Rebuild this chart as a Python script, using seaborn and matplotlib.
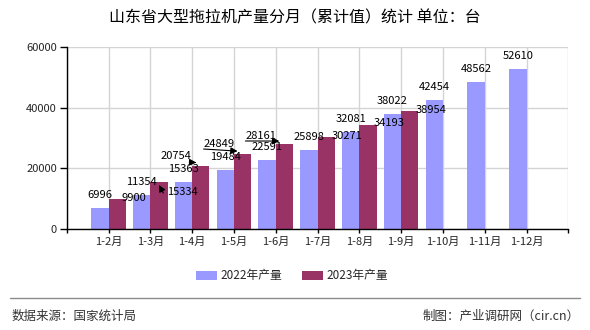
import numpy as np
import pandas as pd
import matplotlib
matplotlib.use('Agg')
import matplotlib.pyplot as plt
import seaborn as sns
from matplotlib.transforms import offset_copy
from matplotlib.lines import Line2D
from matplotlib.patches import Patch

# ---------------- data ----------------
months = ['1-2月', '1-3月', '1-4月', '1-5月', '1-6月', '1-7月', '1-8月',
          '1-9月', '1-10月', '1-11月', '1-12月']
prod_2022 = [6996, 11354, 15363, 19484, 22591, 25898, 32081, 38022, 42454, 48562, 52610]
prod_2023 = [9900, 15334, 20754, 24849, 28161, 30271, 34193, 38954, None, None, None]
series = ['2022年产量', '2023年产量']
yticks = [0, 20000, 40000, 60000]
title = '山东省大型拖拉机产量分月（累计值）统计 单位：台'
source = '数据来源：国家统计局'
maker = '制图：产业调研网（cir.cn）'

# ---------------- style ----------------
colors = ['#9999ff', '#993366']
# label offsets for 2023 bars (pixels: dx, up) and leader-line tips
lab23_off = [(17, 1), (23, -9.5), (-24.8, 10), (-23.4, 9.6), (-23.5, 7.6),
             (21, 1.2), (21, 2.3), (21, 1)]
lab23_lead = [None,
              dict(tip=(0, -2.5), relpos=(1, 0), conn='angle,angleA=0,angleB=118,rad=0'),
              dict(tip=(-4.5, 3.5), relpos=(0, 0), conn='arc3'),
              dict(tip=(-5, 2.5), relpos=(0, 0), conn='arc3'),
              dict(tip=(-5, 2.5), relpos=(0, 0), conn='arc3'),
              None, None, None]

sns.set_style('white')
plt.rcParams['font.family'] = ['Noto Sans CJK SC', 'DejaVu Sans']

fig = plt.figure(figsize=(5.9, 3.3), dpi=100)
ax = fig.add_axes([66.7 / 590, 1 - 229 / 330, (568.3 - 66.7) / 590, (229 - 47) / 330])

df = pd.DataFrame({
    '月份': months * 2,
    '系列': [series[0]] * len(months) + [series[1]] * len(months),
    '产量': prod_2022 + prod_2023,
}).dropna()

sns.barplot(data=df, x='月份', y='产量', hue='系列', order=months, hue_order=series,
            palette=colors, width=0.83, errorbar=None, saturation=1, legend=False,
            ax=ax, zorder=2, linewidth=0, edgecolor='none')

ax.set_xlim(-1, 11)
ax.set_ylim(0, 60000)
ax.set_yticks(yticks)
ax.set_yticklabels([str(v) for v in yticks])
ax.set_xticks(range(-1, 12))
ax.set_xticklabels([''] + months + [''])
ax.set_xlabel('')
ax.set_ylabel('')
ax.grid(True, color='#d4d4d4', lw=1)
ax.set_axisbelow(True)
for s in ['top', 'right']:
    ax.spines[s].set_visible(False)
for s in ['left', 'bottom']:
    ax.spines[s].set_color('black')
    ax.spines[s].set_linewidth(1)
ax.tick_params(axis='y', length=5, width=1, color='black', labelsize=8, pad=2, left=True)
ax.tick_params(axis='x', length=3, width=1, color='black', labelsize=8, pad=3, bottom=True)

# ---------------- labels ----------------
bars22 = list(ax.containers[0])
bars23 = list(ax.containers[1])
for b, v in zip(bars22, [v for v in prod_2022 if v is not None]):
    cx = b.get_x() + b.get_width() / 2
    ax.annotate(str(v), xy=(cx, b.get_height()), xytext=(0, 13), textcoords='offset pixels',
                ha='center', va='center', fontsize=8, color='black', zorder=5)

vals23 = [v for v in prod_2023 if v is not None]
for k, (b, v) in enumerate(zip(bars23, vals23)):
    cx = b.get_x() + b.get_width() / 2
    dx, up = lab23_off[k]
    lead = lab23_lead[k]
    if lead is None:
        ax.annotate(str(v), xy=(cx, b.get_height()), xytext=(dx, up),
                    textcoords='offset pixels', ha='center', va='center',
                    fontsize=8, color='black', zorder=5)
    else:
        tx, ty = lead['tip']
        tr = offset_copy(ax.transData, fig=fig, x=tx, y=ty, units='dots')
        ax.annotate(str(v), xy=(cx, b.get_height()), xycoords=tr,
                    xytext=(dx - tx, up - ty), textcoords='offset pixels',
                    ha='center', va='center', fontsize=8, color='black', zorder=5,
                    arrowprops=dict(arrowstyle='-|>,head_length=0.5,head_width=0.25',
                                    color='black', lw=0.8, shrinkA=0, shrinkB=0,
                                    relpos=lead['relpos'], connectionstyle=lead['conn']))

# ---------------- legend / title / footer ----------------
handles = [Patch(facecolor=c, edgecolor='none') for c in colors]
fig.legend(handles, series, loc='center', bbox_to_anchor=(0.495, 1 - 276 / 330), ncol=2,
           frameon=False, fontsize=8.5, handlelength=1.8, handleheight=0.85,
           handletextpad=0.35, columnspacing=1.6)

fig.text(0.5, 1 - 18 / 330, title, ha='center', va='center', fontsize=11.5, color='black')
fig.add_artist(Line2D([10 / 590, 580 / 590], [1 - 298 / 330] * 2, transform=fig.transFigure,
                      color='#8c8c8c', lw=1))
fig.text(12 / 590, 1 - 316 / 330, source, ha='left', va='center', fontsize=9, color='#333333')
fig.text(580 / 590, 1 - 316 / 330, maker, ha='right', va='center', fontsize=9, color='#333333')

fig.savefig('out.png', dpi=100)
